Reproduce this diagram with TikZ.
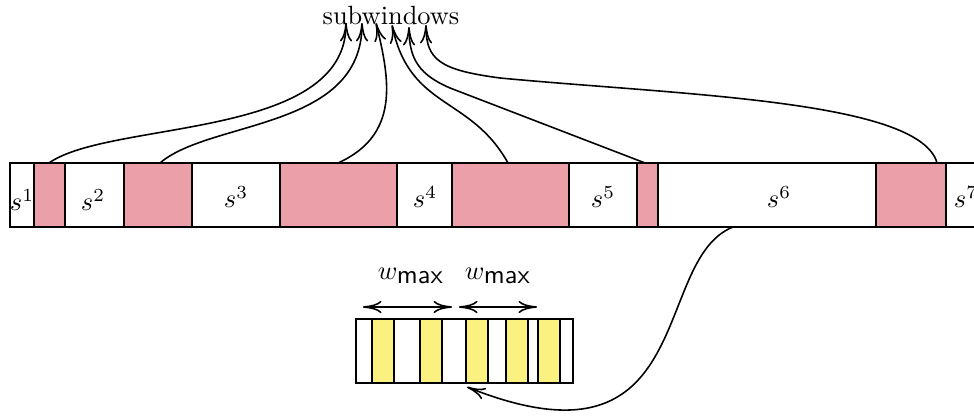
\documentclass[tikz,border=0pt]{standalone}
\usetikzlibrary{arrows.meta}
\definecolor{pinkc}{RGB}{235,159,168}
\definecolor{yelc}{RGB}{250,241,128}
\begin{document}
\begin{tikzpicture}[x=0.3788pt,y=-0.3788pt,
  box/.style={draw=black,semithick},
  pinkbox/.style={box,fill=pinkc},
  yelbox/.style={box,fill=yelc},
  tip/.style={To[length=7pt,width=4.6pt]},
  conn/.style={semithick,-{To[length=7pt,width=4.6pt]}},
  dim/.style={semithick,{To[length=7pt,width=4.6pt]}-{To[length=7pt,width=4.6pt]}}]
\useasboundingbox (0,0) rectangle (974,416);
\clip (0,0) rectangle (974,416);
% big strip
\draw[box] (10,163) rectangle (1000,227);
\path[pinkbox] (34,163) rectangle (65,227);
\path[pinkbox] (124,163) rectangle (192,227);
\path[pinkbox] (280,163) rectangle (397,227);
\path[pinkbox] (452,163) rectangle (569,227);
\path[pinkbox] (637,163) rectangle (658,227);
\path[pinkbox] (876,163) rectangle (946,227);
\coordinate (p1) at (49,163);
\coordinate (p2) at (160,163);
\coordinate (p3) at (338,163);
\coordinate (p4) at (508,163);
\coordinate (p5) at (645,163);
\coordinate (p6) at (937,163);
\coordinate (s6) at (733,227);
\node (l1) at (22,200) {$s^1$};
\node (l2) at (93,200) {$s^2$};
\node (l3) at (236,197) {$s^3$};
\node (l4) at (425,197) {$s^4$};
\node (l5) at (603,197) {$s^5$};
\node (l6) at (779,197) {$s^6$};
\node (l7) at (966,197) {$s^7$};
% title
\node (sub) at (391,15) {subwindows};
\coordinate (t1) at (346,23);
\coordinate (t2) at (362,23);
\coordinate (t3) at (376,23);
\coordinate (t4) at (392,25);
\coordinate (t5) at (409,27);
\coordinate (t6) at (426,25);
\draw[conn] (p1) .. controls (110,120) and (346,140) .. (t1);
\draw[conn] (p2) .. controls (210,120) and (362,130) .. (t2);
\draw[conn] (p3) .. controls (400,135) and (390,80) .. (t3);
\draw[conn] (p4) .. controls (470,95) and (410,110) .. (t4);
\draw[conn] (p5) -- (450,88) .. controls (420,75) and (409,60) .. (t5);
\draw[conn] (p6) .. controls (920,100) and (680,95) .. (500,78) .. controls (440,70) and (426,60) .. (t6);
% small strip
\path[box] (356,319) rectangle (573,383);
\path[yelbox] (372,319) rectangle (394,383);
\path[yelbox] (420,319) rectangle (442,383);
\path[yelbox] (466,319) rectangle (488,383);
\path[yelbox] (506,319) rectangle (528,383);
\path[yelbox] (538,319) rectangle (560,383);
\coordinate (tgt) at (467,387);
\draw[conn] (s6) .. controls (650,260) and (700,480) .. (tgt);
% dimension arrows
\coordinate (a1) at (363,307);
\coordinate (a2) at (452,307);
\coordinate (a3) at (459,307);
\coordinate (a4) at (537,307);
\draw[dim] (a1) -- (a2);
\draw[dim] (a3) -- (a4);
\node (w1) at (411,276) {$w_{\textsf{max}}$};
\node (w2) at (498,276) {$w_{\textsf{max}}$};
\end{tikzpicture}
\end{document}
